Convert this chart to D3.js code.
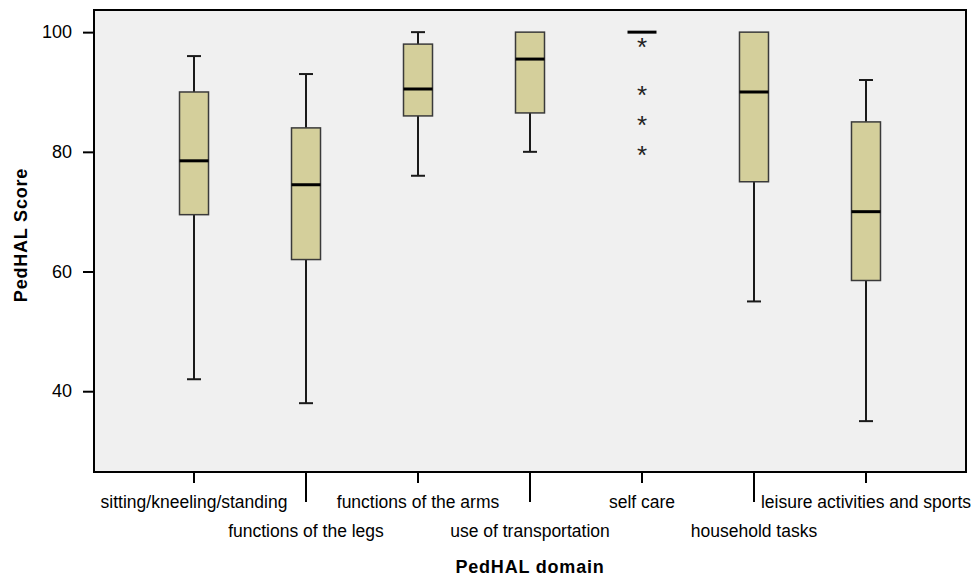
<!DOCTYPE html>
<html>
<head>
<meta charset="utf-8">
<script src="https://cdn.jsdelivr.net/npm/d3@7"></script>
<style>
  body { margin:0; background:#fff; }
  text { font-family: "Liberation Sans", Arial, sans-serif; }
</style>
</head>
<body>
<div id="chart"></div>
<script>
var W = 972, H = 577;
var margin = {top:10, right:6, bottom:105, left:94};

// data
var domains = ["sitting/kneeling/standing", "functions of the legs", "functions of the arms",
  "use of transportation", "self care", "household tasks", "leisure activities and sports"];
var minV    = [42,   38,   76,   80,   100, 55,  35];
var q1V     = [69.5, 62,   86,   86.5, 100, 75,  58.5];
var medV    = [78.5, 74.5, 90.5, 95.5, 100, 90,  70];
var q3V     = [90,   84,   98,   100,  100, 100, 85];
var maxV    = [96,   93,   100,  100,  100, 100, 92];
var outliers = [[], [], [], [], [98, 90, 85, 80], [], []];
var yTicks = [40, 60, 80, 100];

var boxes = domains.map(function(d, i){
  return {name:d, min:minV[i], q1:q1V[i], med:medV[i], q3:q3V[i], max:maxV[i], out:outliers[i]};
});

var svg = d3.select("#chart").append("svg").attr("width", W).attr("height", H);

var x = d3.scalePoint().domain(domains)
  .range([margin.left, W - margin.right]).padding(0.893);
var y = d3.scaleLinear().domain([26.5, 103.7])
  .range([H - margin.bottom, margin.top]);

var pL = margin.left, pR = W - margin.right, pT = margin.top, pB = H - margin.bottom;

svg.append("rect")
  .attr("x", pL).attr("y", pT)
  .attr("width", pR-pL).attr("height", pB-pT)
  .attr("fill", "#f0f0f0");

// y axis
var yAxis = svg.append("g")
  .attr("transform", "translate(" + pL + ",0)")
  .call(d3.axisLeft(y).tickValues(yTicks).tickSize(11).tickPadding(11));
yAxis.select(".domain").remove();
yAxis.selectAll("line").attr("stroke", "#000").attr("stroke-width", 2);
yAxis.selectAll("text").attr("font-size", 18).attr("fill", "#000")
  .style("font-family", "'Liberation Sans', Arial, sans-serif");

// x axis ticks, alternating lengths
var xg = svg.append("g");
xg.selectAll("line").data(domains).enter().append("line")
  .attr("x1", function(d){ return x(d); })
  .attr("x2", function(d){ return x(d); })
  .attr("y1", pB)
  .attr("y2", function(d,i){ return i % 2 === 0 ? pB + 11 : pB + 30; })
  .attr("stroke", "#000").attr("stroke-width", 2);
xg.selectAll("text").data(domains).enter().append("text")
  .attr("x", function(d){ return x(d); })
  .attr("y", function(d,i){ return i % 2 === 0 ? 508 : 537; })
  .attr("text-anchor", "middle")
  .attr("font-size", 17.5)
  .text(function(d){ return d; });

var bw = 29, cap = 14;
var g = svg.append("g").selectAll("g").data(boxes).enter().append("g");

// whiskers
g.append("line")
  .attr("x1", function(d){ return x(d.name); }).attr("x2", function(d){ return x(d.name); })
  .attr("y1", function(d){ return y(d.max); }).attr("y2", function(d){ return y(d.q3); })
  .attr("stroke", "#1a1a1a").attr("stroke-width", 2);
g.append("line")
  .attr("x1", function(d){ return x(d.name); }).attr("x2", function(d){ return x(d.name); })
  .attr("y1", function(d){ return y(d.q1); }).attr("y2", function(d){ return y(d.min); })
  .attr("stroke", "#1a1a1a").attr("stroke-width", 2);
g.filter(function(d){ return d.max > d.q3; }).append("line")
  .attr("x1", function(d){ return x(d.name) - cap/2; }).attr("x2", function(d){ return x(d.name) + cap/2; })
  .attr("y1", function(d){ return y(d.max); }).attr("y2", function(d){ return y(d.max); })
  .attr("stroke", "#1a1a1a").attr("stroke-width", 2);
g.filter(function(d){ return d.min < d.q1; }).append("line")
  .attr("x1", function(d){ return x(d.name) - cap/2; }).attr("x2", function(d){ return x(d.name) + cap/2; })
  .attr("y1", function(d){ return y(d.min); }).attr("y2", function(d){ return y(d.min); })
  .attr("stroke", "#1a1a1a").attr("stroke-width", 2);

// boxes
g.filter(function(d){ return d.q3 > d.q1; }).append("rect")
  .attr("x", function(d){ return x(d.name) - bw/2; })
  .attr("y", function(d){ return y(d.q3); })
  .attr("width", bw)
  .attr("height", function(d){ return y(d.q1) - y(d.q3); })
  .attr("fill", "#d4cf9b").attr("stroke", "#3a3a3a").attr("stroke-width", 1.5);

// medians
g.append("line")
  .attr("x1", function(d){ return x(d.name) - bw/2; }).attr("x2", function(d){ return x(d.name) + bw/2; })
  .attr("y1", function(d){ return y(d.med); }).attr("y2", function(d){ return y(d.med); })
  .attr("stroke", "#000").attr("stroke-width", 3);

// outliers
g.selectAll("text.out").data(function(d){ return d.out.map(function(v){ return {name:d.name, v:v}; }); })
  .enter().append("text").attr("class", "out")
  .attr("x", function(d){ return x(d.name); })
  .attr("y", function(d){ return y(d.v) + 12; })
  .attr("text-anchor", "middle")
  .attr("font-size", 26).attr("fill", "#222")
  .text("*");

// frame
svg.append("rect")
  .attr("x", pL).attr("y", pT)
  .attr("width", pR-pL).attr("height", pB-pT)
  .attr("fill", "none").attr("stroke", "#000").attr("stroke-width", 2);

// axis titles
svg.append("text")
  .attr("x", (pL+pR)/2).attr("y", 573)
  .attr("text-anchor", "middle").attr("font-size", 18).attr("font-weight", "bold")
  .attr("letter-spacing", 0.8)
  .text("PedHAL domain");
svg.append("text")
  .attr("transform", "translate(27,235) rotate(-90)")
  .attr("text-anchor", "middle").attr("font-size", 18).attr("font-weight", "bold")
  .attr("letter-spacing", 0.8)
  .text("PedHAL Score");
</script>
</body>
</html>
